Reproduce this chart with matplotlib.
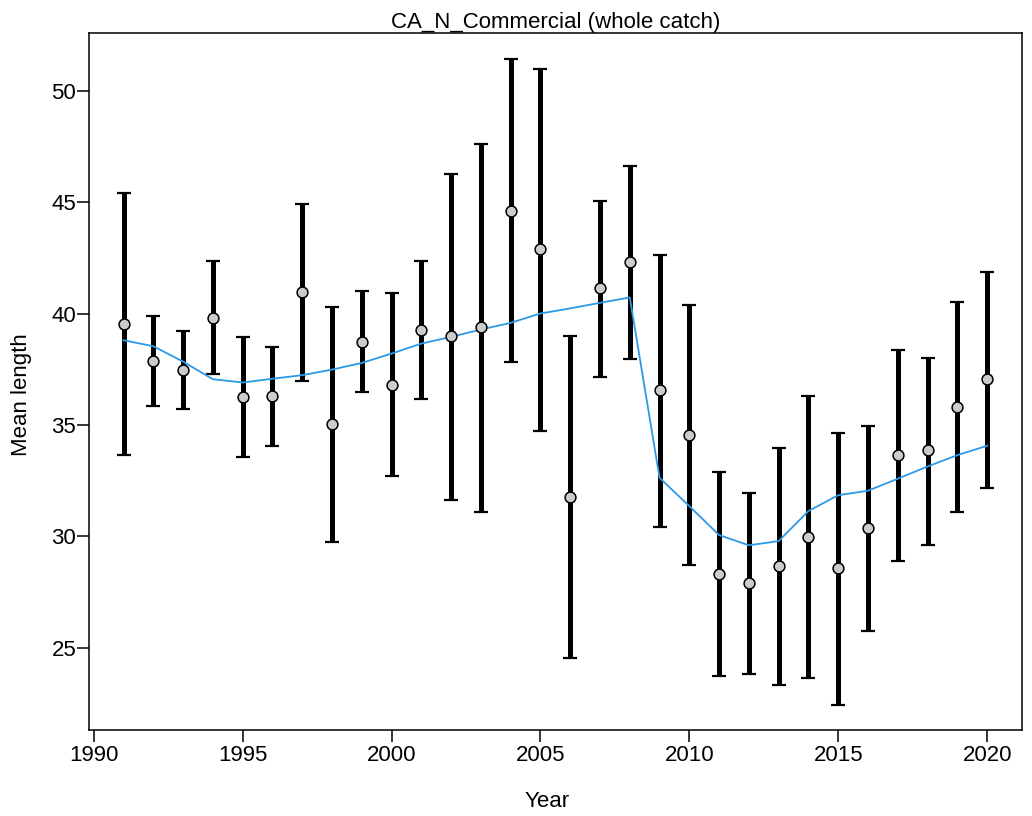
import numpy as np
import matplotlib
matplotlib.use('Agg')
import matplotlib.pyplot as plt

plt.rcParams['font.family'] = ['Liberation Sans', 'DejaVu Sans']

years = np.arange(1991, 2021)
obs = [39.56, 37.88, 37.46, 39.83, 36.27, 36.31, 40.98, 35.05, 38.75, 36.82,
       39.29, 38.99, 39.41, 44.63, 42.91, 31.78, 41.16, 42.31, 36.57, 34.56,
       28.32, 27.90, 28.68, 29.98, 28.56, 30.39, 33.66, 33.86, 35.83, 37.06]
upper = [45.44, 39.89, 39.21, 42.37, 38.94, 38.51, 44.95, 40.31, 41.01, 40.93,
         42.37, 46.27, 47.61, 51.44, 51.00, 38.99, 45.08, 46.65, 42.64, 40.38,
         32.87, 31.96, 33.98, 36.30, 34.64, 34.96, 38.39, 38.03, 40.52, 41.89]
lower = [33.65, 35.85, 35.70, 37.28, 33.55, 34.08, 36.97, 29.76, 36.49, 32.69,
         36.16, 31.63, 31.10, 37.85, 34.74, 24.55, 37.18, 37.97, 30.43, 28.73,
         23.74, 23.82, 23.33, 23.63, 22.43, 25.76, 28.90, 29.62, 31.10, 32.18]
expected = [38.81, 38.54, 37.85, 37.06, 36.91, 37.08, 37.24, 37.49, 37.79, 38.21,
            38.66, 38.96, 39.29, 39.59, 40.01, 40.24, 40.49, 40.73, 32.63, 31.36,
            30.06, 29.60, 29.79, 31.14, 31.85, 32.05, 32.59, 33.14, 33.65, 34.07]

obs = np.array(obs)
yerr = [obs - np.array(lower), np.array(upper) - obs]

fig = plt.figure(figsize=(10.32, 8.16), dpi=100)
ax = fig.add_axes([0.0862, 0.105, 0.9038, 0.8546])

# observed mean length with intervals, expected as a line
ax.errorbar(years, obs, yerr=yerr, fmt='none', ecolor='black', elinewidth=3.6,
            capsize=4.8, capthick=1.6, zorder=2)
ax.plot(years, expected, color='#2b9ae8', lw=1.3, zorder=3)
ax.plot(years, obs, 'o', ms=7.8, mfc='#cccccc', mec='black', mew=1.1, zorder=4)

ax.set_xlim(1989.84, 2021.16)
ax.set_ylim(21.29, 52.61)
ax.set_xticks(np.arange(1990, 2021, 5))
ax.set_yticks(np.arange(25, 51, 5))

for s in ax.spines.values():
    s.set_linewidth(1.1)
ax.tick_params(direction='out', length=8.5, width=1.1, labelsize=16)
ax.tick_params(axis='x', pad=2)
ax.tick_params(axis='y', pad=0.7)

ax.set_title('CA_N_Commercial (whole catch)', fontsize=16, pad=3.4)
ax.set_xlabel('Year', fontsize=16, va='center')
ax.set_ylabel('Mean length', fontsize=16, va='center')
ax.xaxis.set_label_coords(0.491, -0.1024)
ax.yaxis.set_label_coords(-0.0718, 0.481)

fig.savefig('out.png', dpi=100)
